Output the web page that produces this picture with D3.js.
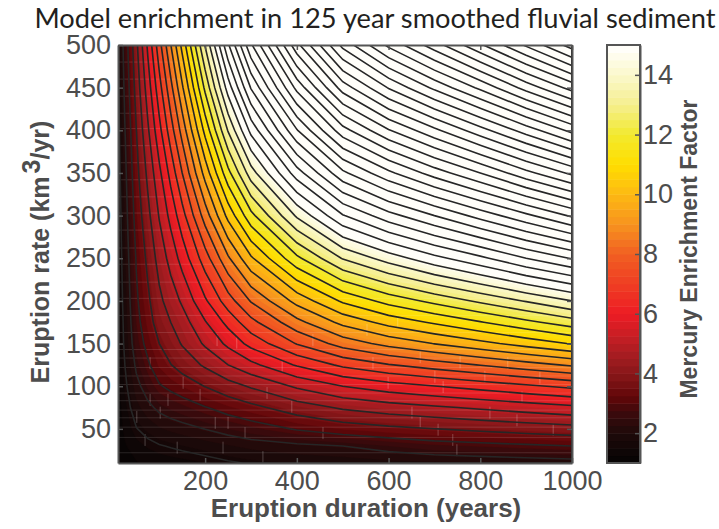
<!DOCTYPE html>
<html>
<head>
    <meta charset="utf-8">
    <script src="https://d3js.org/d3.v7.min.js"></script>
    <style>
        body { margin: 0; background: #fff; }
        text { font-family: "Liberation Sans", Arial, sans-serif; fill: #4d4d4d; }
    </style>
</head>
<body>
    <div id="chart"></div>

    <script>
        // values
        const durations = [10, 25, 50, 75, 100, 125, 150, 200, 250, 300, 400, 500, 600, 700, 800, 900, 1000];
        const rates = [10, 30, 50, 75, 100, 125, 150, 175, 200, 250, 300, 350, 400, 450, 500];
        // enrichment, one row per rate, one column per duration
        const enrichment = [
            [1.02, 1.12, 1.23, 1.30, 1.35, 1.39, 1.42, 1.50, 1.60, 1.68, 1.78, 1.83, 1.90, 1.95, 2.00, 2.05, 2.10],
            [1.05, 1.22, 1.41, 1.53, 1.62, 1.68, 1.74, 1.85, 1.97, 2.08, 2.20, 2.30, 2.50, 2.68, 2.77, 2.86, 2.95],
            [1.08, 1.32, 1.63, 1.81, 1.96, 2.06, 2.14, 2.31, 2.49, 2.66, 3.00, 3.27, 3.45, 3.59, 3.73, 3.87, 4.00],
            [1.10, 1.42, 1.90, 2.18, 2.41, 2.55, 2.67, 2.92, 3.19, 3.43, 3.93, 4.34, 4.60, 4.80, 5.00, 5.20, 5.40],
            [1.14, 1.54, 2.15, 2.55, 2.90, 3.08, 3.25, 3.62, 3.98, 4.32, 5.00, 5.55, 5.91, 6.18, 6.45, 6.73, 7.00],
            [1.17, 1.65, 2.40, 2.87, 3.30, 3.58, 3.85, 4.35, 4.90, 5.37, 6.27, 6.99, 7.46, 7.83, 8.18, 8.54, 8.90],
            [1.20, 1.75, 2.62, 3.13, 3.60, 3.95, 4.30, 5.00, 5.70, 6.42, 7.54, 8.43, 9.02, 9.47, 9.91, 10.36, 10.80],
            [1.22, 1.80, 2.75, 3.33, 3.90, 4.25, 4.60, 5.50, 6.40, 7.30, 8.60, 9.64, 10.33, 10.85, 11.36, 11.89, 12.40],
            [1.25, 1.85, 2.85, 3.48, 4.10, 4.55, 5.00, 6.10, 7.20, 8.20, 9.67, 10.85, 11.63, 12.23, 12.82, 13.40, 14.00],
            [1.30, 1.95, 3.00, 3.75, 4.50, 5.13, 5.80, 7.20, 8.70, 10.00, 11.90, 13.40, 14.30, 15.10, 15.80, 16.60, 17.30],
            [1.35, 2.05, 3.20, 4.07, 4.95, 5.75, 6.60, 8.45, 10.30, 11.85, 14.10, 15.90, 17.00, 17.90, 18.80, 19.70, 20.60],
            [1.42, 2.15, 3.40, 4.40, 5.40, 6.42, 7.50, 9.70, 11.85, 13.70, 16.30, 18.40, 19.70, 20.80, 21.80, 22.90, 23.90],
            [1.48, 2.28, 3.60, 4.80, 6.00, 7.20, 8.40, 10.95, 13.40, 15.50, 18.50, 20.90, 22.40, 23.60, 24.80, 26.00, 27.20],
            [1.55, 2.42, 3.85, 5.22, 6.60, 7.95, 9.35, 12.20, 14.95, 17.30, 20.70, 23.40, 25.10, 26.50, 27.80, 29.20, 30.50],
            [1.62, 2.55, 4.10, 5.67, 7.25, 8.78, 10.30, 13.40, 16.50, 19.10, 22.90, 25.90, 27.80, 29.30, 30.80, 32.30, 33.80]
        ];
        const xTicks = [200, 400, 600, 800, 1000];
        const yTicks = [50, 100, 150, 200, 250, 300, 350, 400, 450, 500];
        const barTicks = [2, 4, 6, 8, 10, 12, 14];
        const colorStops = [1, 2, 2.7, 3.2, 3.8, 4.5, 5.2, 6, 7, 8, 9, 10, 11, 12, 13, 14, 15];
        const colorValues = ["#050303", "#1e0a0a", "#3c0a0c", "#600608", "#7f1416", "#a01c20", "#c41e24", "#ed1c24",
            "#ef3e23", "#f15f22", "#f7931e", "#fdb913", "#ffdd00", "#f2e92e", "#f5ef8e", "#fbf8cc", "#ffffff"];
        // faint seams that run through the coloured field
        const seamRates = [22, 40, 52, 63, 72, 83, 92, 102, 112, 122, 133, 143, 163, 183, 203, 222, 243, 262, 283,
            303, 322, 342, 362, 382, 402, 420, 440, 460, 480];
        const brickDurations = [51, 69, 80, 102, 119, 139, 80, 239, 222, 250, 287, 326, 152, 189, 226, 269, 335, 389,
            435, 457, 368, 620, 553, 566, 669, 599, 701, 651, 669, 708, 740, 749, 821, 880, 959, 891, 719, 810, 930, 756, 860];
        const brickRates = [64, 37, 84, 69, 84, 28, 127, 28, 57, 57, 45, 17, 104, 90, 154, 151, 92, 76,
            154, 45, 123, 175, 166, 127, 134, 104, 111, 69, 58, 49, 37, 25, 69, 60, 49, 87, 99, 111, 110, 128, 127];

        const width = 719;
        const height = 529;
        const plot = {left: 118, right: 572, top: 45, bottom: 463};
        const bar = {left: 607, right: 640};
        const axisColor = "#555";

        const svg = d3.select("#chart")
            .append("svg")
            .attr("width", width)
            .attr("height", height)
            .style("display", "block");

        const x = d3.scaleLinear().domain([10, 1000]).range([plot.left, plot.right]);
        const y = d3.scaleLinear().domain([10, 500]).range([plot.bottom, plot.top]);
        const barY = d3.scaleLinear().domain([1, 15]).range([plot.bottom, plot.top]);
        const color = d3.scaleLinear().domain(colorStops).range(colorValues).clamp(true);

        // contour grid coordinates -> data values (samples sit at index + 0.5)
        const xIndex = d3.scaleLinear().domain(d3.range(durations.length)).range(durations).clamp(true);
        const yIndex = d3.scaleLinear().domain(d3.range(rates.length)).range(rates).clamp(true);
        const path = d3.geoPath(d3.geoTransform({
            point(px, py) {
                this.stream.point(x(xIndex(px - 0.5)), y(yIndex(py - 0.5)));
            }
        }));

        const contours = d3.contours()
            .size([durations.length, rates.length])
            .smooth(true);
        const flat = enrichment.flat();

        svg.append("clipPath").attr("id", "plot-clip")
            .append("rect")
            .attr("x", plot.left).attr("y", plot.top)
            .attr("width", plot.right - plot.left)
            .attr("height", plot.bottom - plot.top);

        const field = svg.append("g").attr("clip-path", "url(#plot-clip)");

        // colour bands
        const bandCount = 56;
        const bandStep = 14 / bandCount;
        field.append("rect")
            .attr("x", plot.left).attr("y", plot.top)
            .attr("width", plot.right - plot.left)
            .attr("height", plot.bottom - plot.top)
            .attr("fill", color(1));
        field.selectAll("path.band")
            .data(contours.thresholds(d3.range(1, 15, bandStep))(flat))
            .join("path")
            .attr("class", "band")
            .attr("d", path)
            .attr("fill", d => color(d.value + bandStep / 2))
            .attr("stroke", d => color(d.value + bandStep / 2))
            .attr("stroke-width", 0.4);

        // seams
        field.selectAll("line.seam")
            .data(seamRates)
            .join("line")
            .attr("class", "seam")
            .attr("x1", plot.left).attr("x2", plot.right)
            .attr("y1", d => y(d)).attr("y2", d => y(d))
            .attr("stroke", "#fff")
            .attr("stroke-opacity", 0.16)
            .attr("stroke-width", 0.8);
        field.selectAll("line.brick")
            .data(brickDurations)
            .join("line")
            .attr("class", "brick")
            .attr("x1", d => x(d)).attr("x2", d => x(d))
            .attr("y1", (d, i) => y(brickRates[i] + 7)).attr("y2", (d, i) => y(brickRates[i] - 7))
            .attr("stroke", "#fff")
            .attr("stroke-opacity", 0.3)
            .attr("stroke-width", 0.8);

        // contour lines
        field.selectAll("path.level")
            .data(contours.thresholds(d3.range(1.65, 34, 0.65))(flat))
            .join("path")
            .attr("class", "level")
            .attr("d", path)
            .attr("fill", "none")
            .attr("stroke", "#262626")
            .attr("stroke-width", 1.6);

        // axes
        function styleAxis(g) {
            g.selectAll("path").attr("stroke", axisColor).attr("stroke-width", 2);
            g.selectAll("line").attr("stroke", axisColor).attr("stroke-width", 1.5);
            g.selectAll("text").attr("font-size", 27).attr("fill", "#4d4d4d")
                .attr("font-family", '"Liberation Sans", Arial, sans-serif');
        }
        svg.append("g").attr("transform", `translate(0,${plot.bottom})`)
            .call(d3.axisBottom(x).tickValues(xTicks).tickSize(-5).tickSizeOuter(0).tickPadding(8).tickFormat(d3.format("d"))).call(styleAxis);
        svg.append("g").attr("transform", `translate(0,${plot.top})`)
            .call(d3.axisTop(x).tickValues(xTicks).tickSize(-5).tickSizeOuter(0).tickFormat("")).call(styleAxis);
        svg.append("g").attr("transform", `translate(${plot.left},0)`)
            .call(d3.axisLeft(y).tickValues(yTicks).tickSize(-5).tickSizeOuter(0).tickPadding(7)).call(styleAxis);
        svg.append("g").attr("transform", `translate(${plot.right},0)`)
            .call(d3.axisRight(y).tickValues(yTicks).tickSize(-5).tickSizeOuter(0).tickFormat("")).call(styleAxis);

        // colour bar
        const barSteps = d3.range(1, 15, bandStep);
        svg.selectAll("rect.step")
            .data(barSteps)
            .join("rect")
            .attr("class", "step")
            .attr("x", bar.left)
            .attr("width", bar.right - bar.left)
            .attr("y", d => barY(d + bandStep))
            .attr("height", d => barY(d) - barY(d + bandStep) + 0.5)
            .attr("fill", d => color(d + bandStep / 2));
        svg.append("g").attr("transform", `translate(${bar.right},0)`)
            .call(d3.axisRight(barY).tickValues(barTicks).tickSize(-5).tickSizeOuter(0).tickPadding(3)).call(styleAxis);
        svg.append("rect")
            .attr("x", bar.left).attr("y", plot.top)
            .attr("width", bar.right - bar.left)
            .attr("height", plot.bottom - plot.top)
            .attr("fill", "none")
            .attr("stroke", axisColor)
            .attr("stroke-width", 2);

        // titles
        svg.append("text")
            .attr("x", 375).attr("y", 28)
            .attr("text-anchor", "middle")
            .attr("textLength", 681)
            .attr("lengthAdjust", "spacingAndGlyphs")
            .style("font-family", 'Lato, sans-serif')
            .style("fill", "#231f20")
            .attr("font-size", 27)
            .text("Model enrichment in 125 year smoothed fluvial sediment");

        svg.append("text")
            .attr("x", 366).attr("y", 517)
            .attr("text-anchor", "middle")
            .attr("font-size", 26)
            .attr("font-weight", "bold")
            .text("Eruption duration (years)");

        const yTitle = svg.append("text")
            .attr("transform", "translate(49,252) rotate(-90)")
            .attr("text-anchor", "middle")
            .attr("font-size", 25)
            .attr("font-weight", "bold");
        yTitle.append("tspan").text("Eruption rate (km");
        yTitle.append("tspan").attr("dy", -9).attr("dx", 3).text("3");
        yTitle.append("tspan").attr("dy", 9).text("/yr)");

        svg.append("text")
            .attr("transform", "translate(697,249) rotate(-90)")
            .attr("text-anchor", "middle")
            .attr("font-size", 23)
            .attr("font-weight", "bold")
            .text("Mercury Enrichment Factor");
    </script>
</body>
</html>
